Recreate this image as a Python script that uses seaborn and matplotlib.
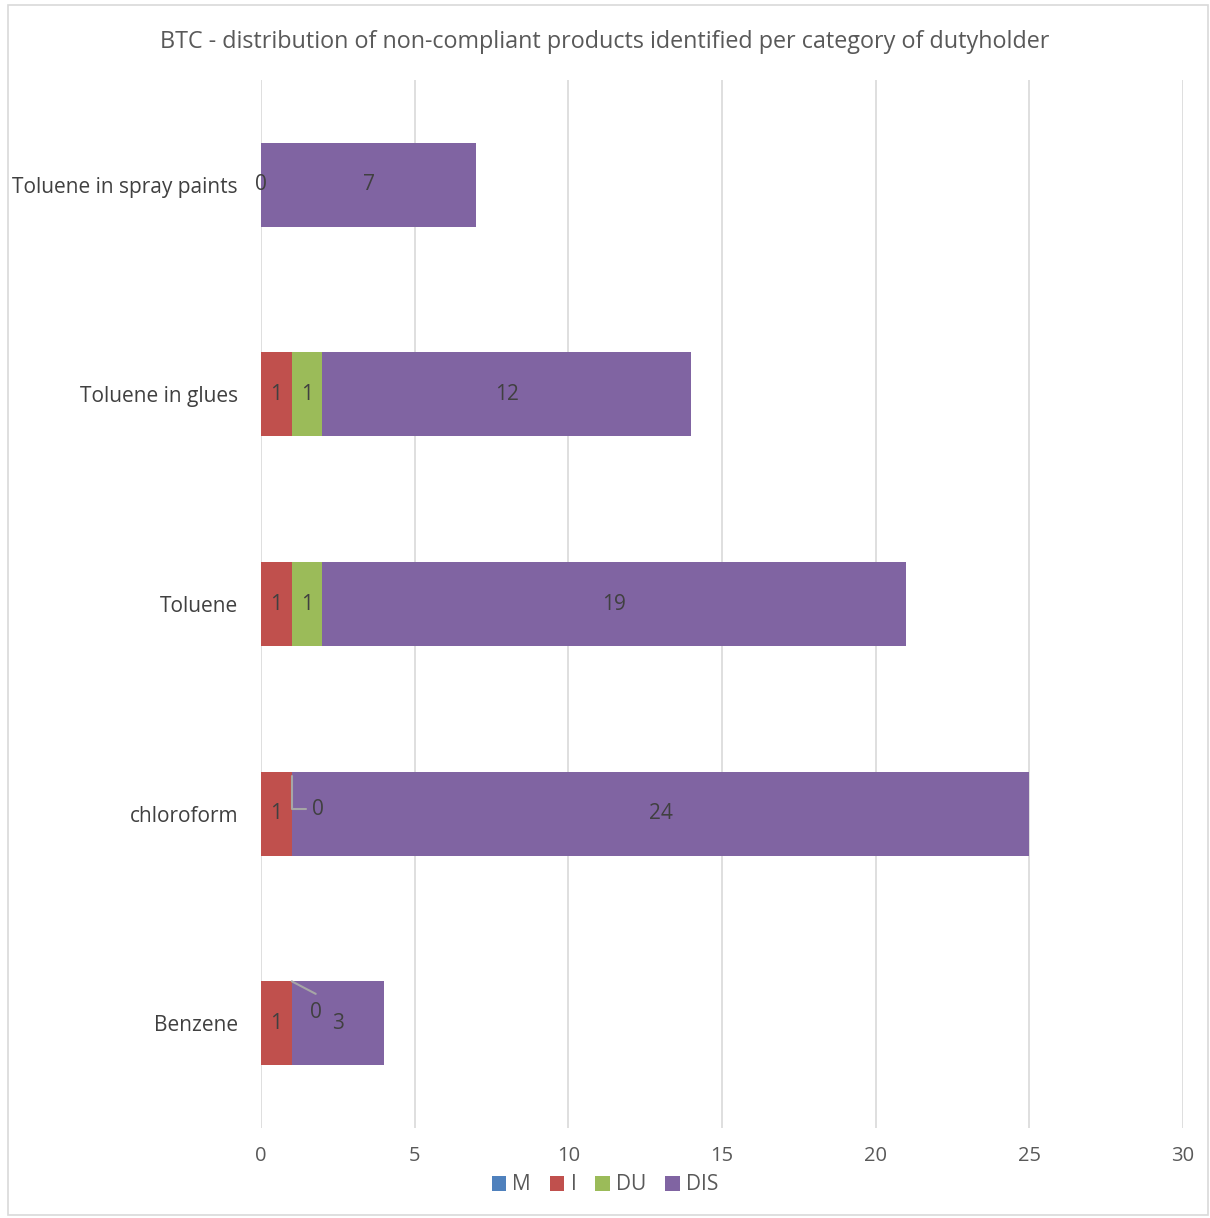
import matplotlib
matplotlib.use("Agg")
import matplotlib.pyplot as plt
import seaborn as sns
import pandas as pd
import numpy as np
from matplotlib.patches import Patch, Rectangle

categories = ["Toluene in spray paints", "Toluene in glues", "Toluene", "chloroform", "Benzene"]
series_names = ["M", "I", "DU", "DIS"]
M = [0, 0, 0, 0, 0]
I = [0, 1, 1, 1, 1]
DU = [0, 1, 1, 0, 0]
DIS = [7, 12, 19, 24, 3]
I_labels = ["0", "1", "1", "1", "1"]
DU_labels = ["", "1", "1", "0", "0"]
DIS_labels = ["7", "12", "19", "24", "3"]
x_ticks = [0, 5, 10, 15, 20, 25, 30]
title = "BTC - distribution of non-compliant products identified per category of dutyholder"

colors = {"M": "#4f81bd", "I": "#c0504d", "DU": "#9bbb59", "DIS": "#8064a2"}

sns.set_theme(style="white")
plt.rcParams["font.family"] = ["Open Sans", "DejaVu Sans"]

df = pd.DataFrame({"category": categories, "M": M, "I": I, "DU": DU, "DIS": DIS})
df["c_M"] = df["M"]
df["c_I"] = df["c_M"] + df["I"]
df["c_DU"] = df["c_I"] + df["DU"]
df["c_DIS"] = df["c_DU"] + df["DIS"]

fig = plt.figure(figsize=(12.1, 12.18), dpi=100)
ax = fig.add_axes([261 / 1210, 1 - 1128 / 1218, (1183 - 261) / 1210, (1128 - 80) / 1218])

# draw cumulative bars, largest first
for s in ["DIS", "DU", "I", "M"]:
    sns.barplot(data=df, y="category", x="c_" + s, orient="h", color=colors[s],
                width=0.4, ax=ax, saturation=1, edgecolor="none", linewidth=0,
                order=categories)

ax.set_xlim(0, 30)
ax.set_ylim(4.5, -0.5)
ax.set_xticks(x_ticks)
ax.xaxis.grid(True, color="#d9d9d9", linewidth=1.2)
ax.set_axisbelow(True)
for sp in ax.spines.values():
    sp.set_visible(False)
ax.set_xlabel("")
ax.set_ylabel("")
ax.tick_params(axis="x", labelsize=14.5, colors="#595959", length=0, pad=13)
ax.tick_params(axis="y", labelsize=15, colors="#404040", length=0, pad=16.5)

lab_color = "#404040"
fs = 15
for i, cat in enumerate(categories):
    left_I = df["c_M"][i]
    left_DU = df["c_I"][i]
    left_DIS = df["c_DU"][i]
    # I labels
    if I_labels[i]:
        ax.text(left_I + I[i] / 2, i, I_labels[i], ha="center", va="center", fontsize=fs, color=lab_color)
    # DU labels
    if DU_labels[i]:
        if DU[i] > 0:
            ax.text(left_DU + DU[i] / 2, i, DU_labels[i], ha="center", va="center", fontsize=fs, color=lab_color)
        elif i == 3:
            ax.plot([left_DU, left_DU, left_DU + 0.45], [i - 0.18, i - 0.02, i - 0.02], color="#a6a6a6", lw=1.5)
            ax.text(left_DU + 0.85, i - 0.02, DU_labels[i], ha="center", va="center", fontsize=fs, color=lab_color)
        else:
            ax.plot([left_DU, left_DU + 0.78], [i - 0.2, i - 0.14], color="#a6a6a6", lw=1.5)
            ax.text(left_DU + 0.78, i - 0.05, DU_labels[i], ha="center", va="center", fontsize=fs, color=lab_color)
    ax.text(left_DIS + DIS[i] / 2, i, DIS_labels[i], ha="center", va="center", fontsize=fs, color=lab_color)

fig.text(0.5, 1 - 42 / 1218, title, ha="center", va="center", fontsize=16.8, color="#595959")

handles = [Patch(facecolor=colors[s], edgecolor="none", label=s) for s in series_names]
fig.legend(handles=handles, loc="center", bbox_to_anchor=(0.5, 1 - 1185 / 1218), ncol=4,
           frameon=False, fontsize=15, handlelength=0.7, handleheight=0.7,
           handletextpad=0.3, columnspacing=0.9, labelcolor="#595959")

fig.patches.append(Rectangle((8 / 1210, 3 / 1218), 1200 / 1210, 1210 / 1218, transform=fig.transFigure,
                             fill=False, edgecolor="#d9d9d9", linewidth=1.2))

fig.savefig("out.png", dpi=100)
